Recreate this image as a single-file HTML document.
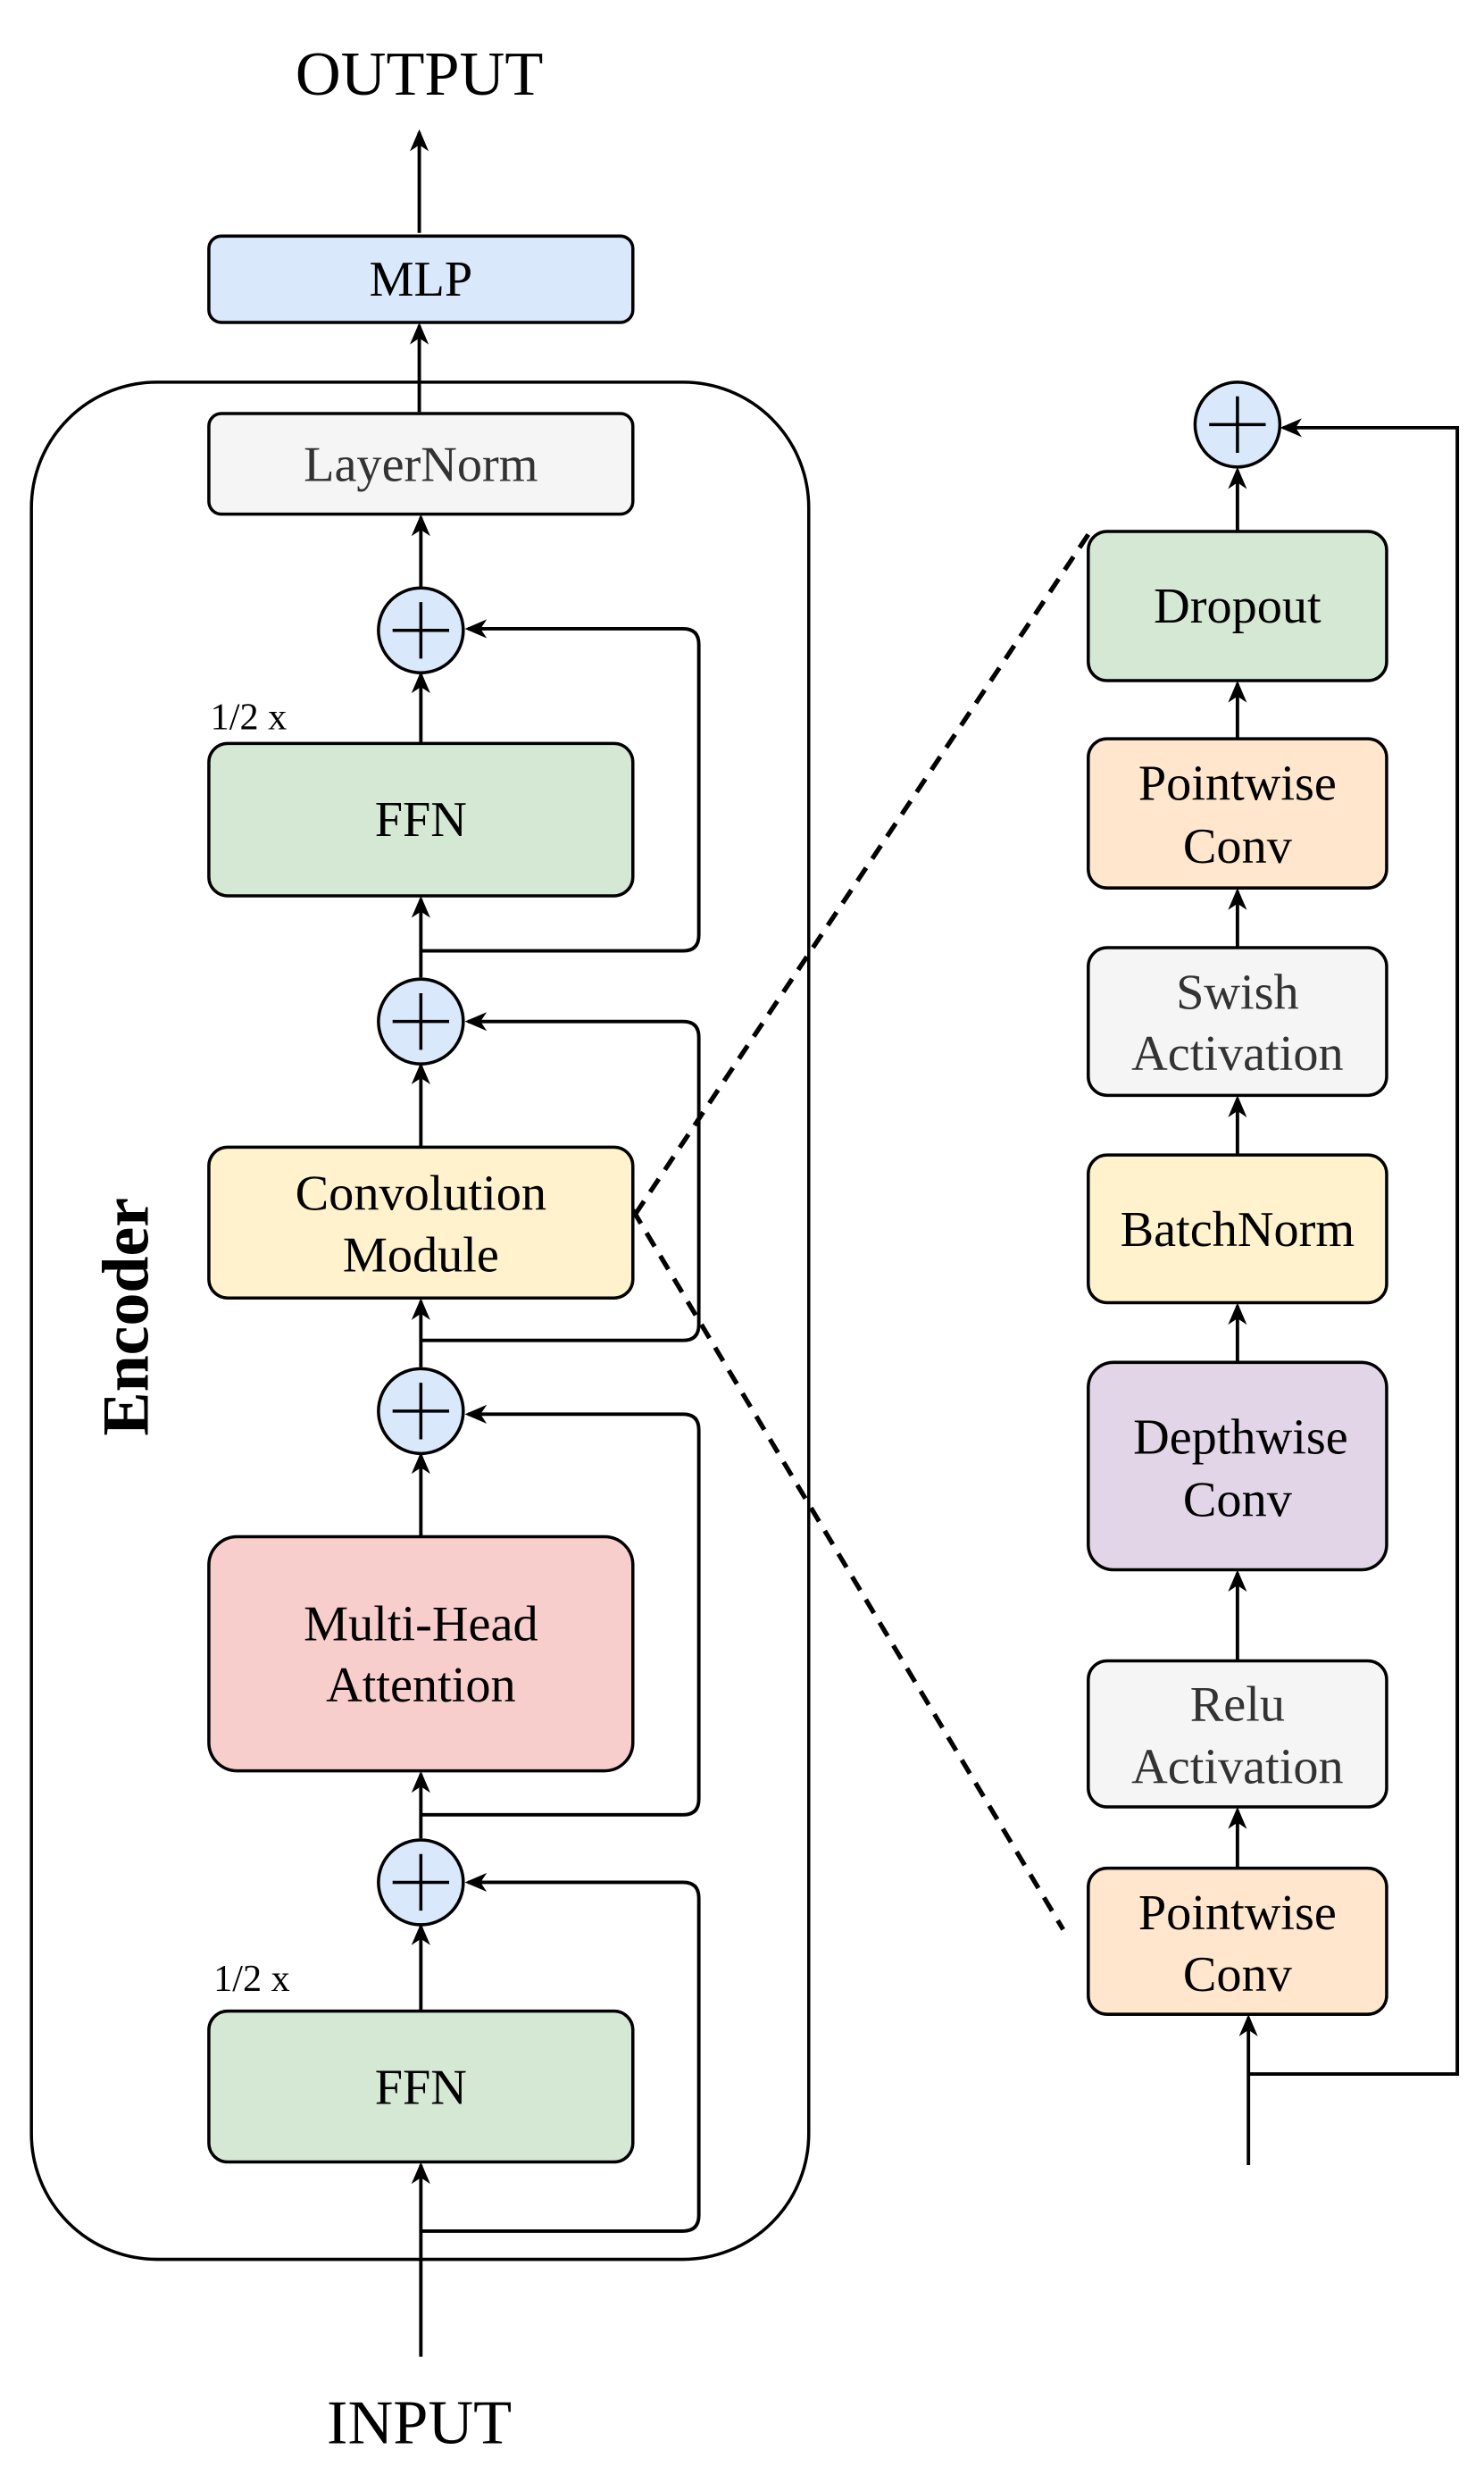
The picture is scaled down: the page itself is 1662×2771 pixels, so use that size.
<!DOCTYPE html>
<html><head><meta charset="utf-8"><style>
html,body{margin:0;padding:0;background:#fff}
svg{display:block}
text{font-family:"Liberation Serif",serif;fill:#000}
</style></head><body>
<svg width="1662" height="2771" viewBox="0 0 945 1575" xmlns="http://www.w3.org/2000/svg">
<defs><marker id="a" markerWidth="14" markerHeight="14" refX="12" refY="7" orient="auto" markerUnits="userSpaceOnUse"><path d="M0,1 L14,7 L0,13 L4,7 z" fill="#000"/></marker></defs>
<g stroke="#000" stroke-width="2" fill="none">
<rect x="20" y="243" width="495" height="1195" rx="80"/>
</g>
<text x="267" y="60" font-size="40" text-anchor="middle">OUTPUT</text>
<text x="267" y="1555" font-size="40" text-anchor="middle">INPUT</text>
<text transform="translate(94,838) rotate(-90)" font-size="42" font-weight="bold" text-anchor="middle">Encoder</text>
<g stroke="#000" stroke-width="2.2" fill="none" marker-end="url(#a)">
<line x1="267" y1="148" x2="267" y2="84"/>
<line x1="267" y1="262" x2="267" y2="207"/>
<line x1="268" y1="373" x2="268" y2="329"/>
<line x1="268" y1="473" x2="268" y2="429"/>
<line x1="268" y1="622" x2="268" y2="572"/>
<line x1="268" y1="730" x2="268" y2="678"/>
<line x1="268" y1="870" x2="268" y2="828"/>
<line x1="268" y1="978" x2="268" y2="926"/>
<line x1="268" y1="1170" x2="268" y2="1129"/>
<line x1="268" y1="1280" x2="268" y2="1226"/>
<line x1="268" y1="1500" x2="268" y2="1378"/>
<path d="M268,605 H435 Q445,605 445,595 V410 Q445,400 435,400 H298"/>
<path d="M268,853 H435 Q445,853 445,843 V660 Q445,650 435,650 H298"/>
<path d="M268,1155 H435 Q445,1155 445,1145 V910 Q445,900 435,900 H298"/>
<path d="M268,1420 H435 Q445,1420 445,1410 V1208 Q445,1198 435,1198 H298"/>
<line x1="788" y1="338" x2="788" y2="299"/>
<line x1="788" y1="470" x2="788" y2="435"/>
<line x1="788" y1="603" x2="788" y2="567"/>
<line x1="788" y1="735" x2="788" y2="699"/>
<line x1="788" y1="867" x2="788" y2="831"/>
<line x1="788" y1="1057" x2="788" y2="1001"/>
<line x1="788" y1="1189" x2="788" y2="1152"/>
<line x1="795" y1="1378" x2="795" y2="1284"/>
<path d="M795,1320 H928 V272 H817"/>
</g>
<g stroke="#000" stroke-width="3" stroke-dasharray="10,7" fill="none">
<line x1="693" y1="340" x2="403" y2="775"/>
<line x1="403" y1="770" x2="677" y2="1228"/>
</g>
<g stroke="#000" stroke-width="2">
<rect x="133" y="150" width="270" height="55" rx="8" fill="#dae8fc"/>
<rect x="133" y="263" width="270" height="64" rx="8" fill="#f5f5f5"/>
<rect x="133" y="473" width="270" height="97" rx="12" fill="#d5e8d4"/>
<rect x="133" y="730" width="270" height="96" rx="12" fill="#fff2cc"/>
<rect x="133" y="978" width="270" height="149" rx="18" fill="#f8cecc"/>
<rect x="133" y="1280" width="270" height="96" rx="12" fill="#d5e8d4"/>
<rect x="693" y="338" width="190" height="95" rx="12" fill="#d5e8d4"/>
<rect x="693" y="470" width="190" height="95" rx="12" fill="#ffe6cc"/>
<rect x="693" y="603" width="190" height="94" rx="12" fill="#f5f5f5"/>
<rect x="693" y="735" width="190" height="94" rx="12" fill="#fff2cc"/>
<rect x="693" y="867" width="190" height="132" rx="16" fill="#e1d5e7"/>
<rect x="693" y="1057" width="190" height="93" rx="12" fill="#f5f5f5"/>
<rect x="693" y="1189" width="190" height="93" rx="12" fill="#ffe6cc"/>
</g>
<g stroke="#000" stroke-width="2" fill="#dae8fc">
<circle cx="268" cy="401" r="27"/><circle cx="268" cy="650" r="27"/>
<circle cx="268" cy="898" r="27"/><circle cx="268" cy="1198" r="27"/>
<circle cx="788" cy="270" r="27"/>
</g>
<g stroke="#000" stroke-width="2">
<path d="M250,401 H286 M268,383 V419"/><path d="M250,650 H286 M268,632 V668"/>
<path d="M250,898 H286 M268,880 V916"/><path d="M250,1198 H286 M268,1180 V1216"/>
<path d="M770,270 H806 M788,252 V288"/>
</g>
<g font-size="32" text-anchor="middle">
<text x="268" y="188">MLP</text>
<text x="268" y="306" style="fill:#333">LayerNorm</text>
<text x="268" y="532">FFN</text>
<text x="268" y="770">Convolution</text><text x="268" y="809">Module</text>
<text x="268" y="1044">Multi-Head</text><text x="268" y="1083">Attention</text>
<text x="268" y="1339">FFN</text>
<text x="788" y="396">Dropout</text>
<text x="788" y="509">Pointwise</text><text x="788" y="549">Conv</text>
<text x="788" y="642" style="fill:#333">Swish</text><text x="788" y="681" style="fill:#333">Activation</text>
<text x="788" y="793">BatchNorm</text>
<text x="790" y="925">Depthwise</text><text x="788" y="965">Conv</text>
<text x="788" y="1095" style="fill:#333">Relu</text><text x="788" y="1135" style="fill:#333">Activation</text>
<text x="788" y="1228">Pointwise</text><text x="788" y="1267">Conv</text>
</g>
<text x="134" y="464" font-size="24">1/2 x</text>
<text x="136" y="1267" font-size="24">1/2 x</text>
</svg>
</body></html>
